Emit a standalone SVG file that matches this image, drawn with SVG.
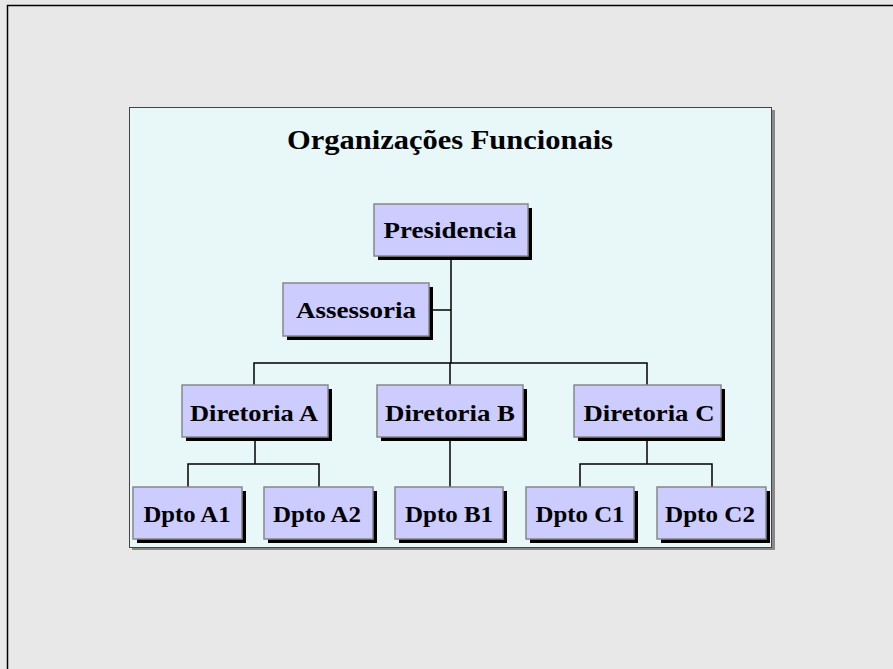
<svg xmlns="http://www.w3.org/2000/svg" width="893" height="669" viewBox="0 0 893 669">
  <style>
    .box { fill: #ccccff; stroke: #888888; stroke-width: 1.5; }
    .shadow { fill: #000000; }
    .lbl { font-family: "Liberation Serif", "Times New Roman", serif; font-weight: bold; font-size: 24px; fill: #000000; text-anchor: middle; }
    .title { font-family: "Liberation Serif", "Times New Roman", serif; font-weight: bold; font-size: 28px; fill: #000000; text-anchor: middle; }
    .conn { stroke: #000000; stroke-width: 1.5; fill: none; }
  </style>
  <!-- slide background and frame -->
  <rect x="0" y="0" width="893" height="669" fill="#e8e8e8"/>
  <path d="M7.5 669 V5.5 H893" fill="none" stroke="#000000" stroke-width="1.5"/>
  <!-- chart panel -->
  <rect x="132" y="110" width="643" height="440" fill="#888888"/>
  <rect x="129.5" y="107.5" width="642" height="440" fill="#e8f7f7" stroke="#444444" stroke-width="1"/>
  <text class="title" x="450" y="149" textLength="326" lengthAdjust="spacingAndGlyphs">Organizações Funcionais</text>

  <g id="connectors">
    <path class="conn" d="M451 260 V363"/>
    <path class="conn" d="M433 310 H451"/>
    <path class="conn" d="M254 385 V363 H647 V385"/>
    <path class="conn" d="M450 363 V385"/>
    <path class="conn" d="M255 441 V464"/>
    <path class="conn" d="M188 487 V464 H319 V487"/>
    <path class="conn" d="M450 441 V487"/>
    <path class="conn" d="M647 441 V464"/>
    <path class="conn" d="M580 487 V464 H712 V487"/>
  </g>

  <g id="presidencia">
    <rect class="shadow" x="378" y="208" width="154" height="52"/>
    <rect class="box" x="374" y="204" width="154" height="52"/>
    <text class="lbl" x="450" y="238" textLength="133" lengthAdjust="spacingAndGlyphs">Presidencia</text>
  </g>
  <g id="assessoria">
    <rect class="shadow" x="287" y="287" width="146" height="53"/>
    <rect class="box" x="283" y="283" width="146" height="53"/>
    <text class="lbl" x="356" y="318" textLength="120" lengthAdjust="spacingAndGlyphs">Assessoria</text>
  </g>
  <g id="diretoria-a">
    <rect class="shadow" x="186" y="389" width="146" height="52"/>
    <rect class="box" x="182" y="385" width="146" height="52"/>
    <text class="lbl" x="254" y="421" textLength="128" lengthAdjust="spacingAndGlyphs">Diretoria A</text>
  </g>
  <g id="diretoria-b">
    <rect class="shadow" x="381" y="389" width="146" height="52"/>
    <rect class="box" x="377" y="385" width="146" height="52"/>
    <text class="lbl" x="450" y="421" textLength="130" lengthAdjust="spacingAndGlyphs">Diretoria B</text>
  </g>
  <g id="diretoria-c">
    <rect class="shadow" x="578" y="389" width="147" height="52"/>
    <rect class="box" x="574" y="385" width="147" height="52"/>
    <text class="lbl" x="649" y="421" textLength="131" lengthAdjust="spacingAndGlyphs">Diretoria C</text>
  </g>
  <g id="dpto-a1">
    <rect class="shadow" x="137" y="491" width="109" height="52"/>
    <rect class="box" x="133" y="487" width="109" height="52"/>
    <text class="lbl" x="187" y="522" textLength="87" lengthAdjust="spacingAndGlyphs">Dpto A1</text>
  </g>
  <g id="dpto-a2">
    <rect class="shadow" x="268" y="491" width="109" height="52"/>
    <rect class="box" x="264" y="487" width="109" height="52"/>
    <text class="lbl" x="317" y="522" textLength="88" lengthAdjust="spacingAndGlyphs">Dpto A2</text>
  </g>
  <g id="dpto-b1">
    <rect class="shadow" x="399" y="491" width="108" height="52"/>
    <rect class="box" x="395" y="487" width="108" height="52"/>
    <text class="lbl" x="449" y="522" textLength="88" lengthAdjust="spacingAndGlyphs">Dpto B1</text>
  </g>
  <g id="dpto-c1">
    <rect class="shadow" x="530" y="491" width="108" height="52"/>
    <rect class="box" x="526" y="487" width="108" height="52"/>
    <text class="lbl" x="580" y="522" textLength="89" lengthAdjust="spacingAndGlyphs">Dpto C1</text>
  </g>
  <g id="dpto-c2">
    <rect class="shadow" x="661" y="491" width="109" height="52"/>
    <rect class="box" x="657" y="487" width="109" height="52"/>
    <text class="lbl" x="710" y="522" textLength="90" lengthAdjust="spacingAndGlyphs">Dpto C2</text>
  </g>
</svg>
